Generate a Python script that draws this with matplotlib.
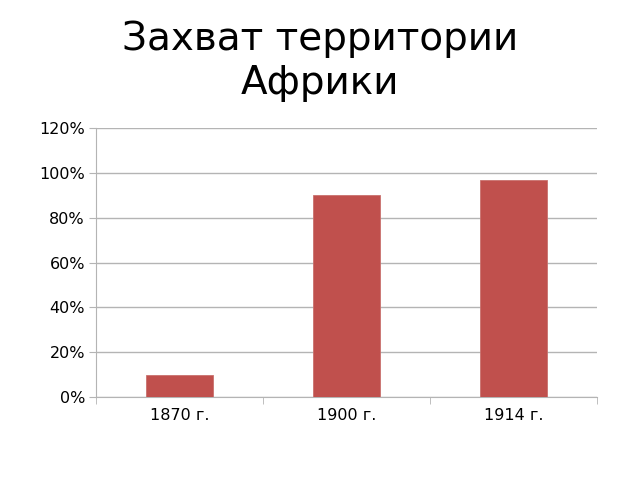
import matplotlib.pyplot as plt
from matplotlib.ticker import PercentFormatter

# Данные
years = ["1870 г.", "1900 г.", "1914 г."]
shares = [0.10, 0.90, 0.967]
yticks = [0, 0.2, 0.4, 0.6, 0.8, 1.0, 1.2]

fig = plt.figure(figsize=(6.4, 4.8), dpi=100)
ax = fig.add_axes([0.15, 0.173, 0.783, 0.560])

x = range(len(years))
ax.bar(x, shares, width=0.4, color="#C0504D", edgecolor="#C9716E", linewidth=0.6, zorder=3)

ax.set_xlim(-0.5, len(years) - 0.5)
ax.set_ylim(0, 1.2)
ax.set_yticks(yticks)
ax.yaxis.set_major_formatter(PercentFormatter(1.0, decimals=0))
ax.set_xticks(list(x))
ax.set_xticklabels(years)
ax.set_xticks([i - 0.5 for i in range(len(years) + 1)], minor=True)

ax.grid(axis="y", color="#B4B4B4", linewidth=1.0, zorder=0)
for side in ["top", "right"]:
    ax.spines[side].set_visible(False)
for side in ["left", "bottom"]:
    ax.spines[side].set_color("#B4B4B4")

ax.tick_params(axis="y", labelsize=11.5, length=5, color="#B4B4B4", pad=3)
ax.tick_params(axis="x", which="major", labelsize=11.5, length=0, pad=8)
ax.tick_params(axis="x", which="minor", length=5, color="#B4B4B4")

fig.text(0.5, 0.872, "Захват территории\nАфрики", ha="center", va="center",
         fontsize=28, linespacing=1.2)

fig.savefig("out.png", dpi=100)
